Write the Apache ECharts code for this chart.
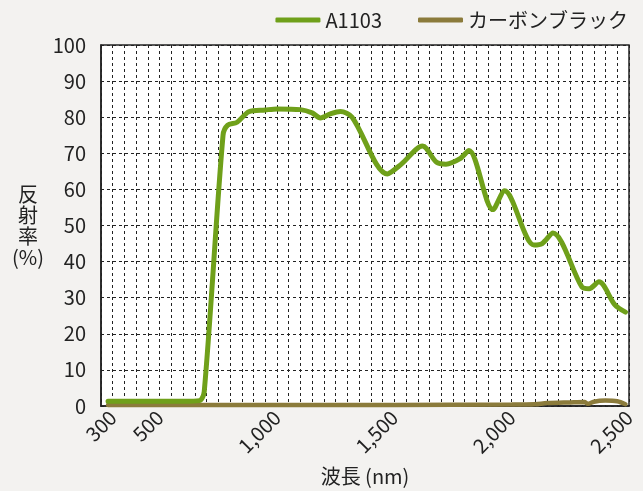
<!DOCTYPE html>
<html>
<head>
<meta charset="utf-8">
<script src="https://cdn.jsdelivr.net/npm/echarts@6/dist/echarts.min.js"></script>
<style>
  html, body { margin: 0; padding: 0; background: #f3f2f0; }
  #chart { width: 643px; height: 491px; }
</style>
</head>
<body>
<div id="chart"></div>
<script>
// 波長 (nm) と反射率 (%)
var seriesNames = ['A1103', 'カーボンブラック']
var tickLabels = [300, 500, 1000, 1500, 2000, 2500]

var a1103Nm = [280, 400, 500, 600, 670, 690, 770, 790, 830, 880, 950, 1000, 1100, 1150, 1185, 1230, 1270, 1320, 1470, 1530, 1620, 1680, 1720, 1780, 1818, 1920, 1970, 2095, 2130, 2176, 2299, 2330, 2372, 2440, 2485]
var a1103Val = [1.3, 1.3, 1.3, 1.3, 1.5, 4, 75, 77.8, 78.6, 81.5, 82, 82.3, 82.1, 81.2, 79.8, 81, 81.6, 80, 64.3, 67, 72, 67.5, 67, 68.5, 70.8, 54.4, 59.6, 44.6, 45, 47.9, 33, 32.5, 34.4, 28, 26]

var carbonNm = [280, 1000, 1500, 2000, 2100, 2150, 2250, 2310, 2325, 2350, 2400, 2450, 2485]
var carbonVal = [0.3, 0.3, 0.3, 0.4, 0.5, 0.8, 1.0, 1.1, 0.6, 1.2, 1.5, 1.3, 0.5]

function pairs(xs, ys) {
  return xs.map(function (x, i) { return [x, ys[i]] })
}

var font = '"Noto Sans CJK JP", "Noto Sans", sans-serif'
var chart = echarts.init(document.getElementById('chart'))

chart.setOption({
  backgroundColor: '#f3f2f0',
  textStyle: { fontFamily: font },
  legend: {
    right: 10,
    top: 5,
    itemWidth: 45,
    itemHeight: 5,
    itemGap: 36,
    icon: 'roundRect',
    textStyle: { fontSize: 20, color: '#222', fontFamily: font },
    data: seriesNames
  },
  grid: {
    left: 101,
    right: 14,
    top: 45,
    bottom: 84.5,
    show: true,
    backgroundColor: '#fff',
    borderColor: '#222',
    borderWidth: 1.5
  },
  xAxis: {
    type: 'value',
    min: 250,
    max: 2500,
    interval: 50,
    name: '波長 (nm)',
    nameLocation: 'middle',
    nameGap: 60,
    nameTextStyle: { fontSize: 20, color: '#222', fontFamily: font },
    axisLine: { show: true, lineStyle: { color: '#222', width: 1.5 } },
    axisTick: { show: false },
    axisLabel: {
      rotate: 45,
      margin: 8,
      fontSize: 20,
      color: '#222',
      showMinLabel: false,
      showMaxLabel: true,
      formatter: function (v) {
        return tickLabels.indexOf(v) >= 0 ? v.toLocaleString('en-US') : ''
      }
    },
    splitLine: { show: true, lineStyle: { color: '#222', type: [3, 3], width: 1 } }
  },
  yAxis: {
    type: 'value',
    min: 0,
    max: 100,
    interval: 10,
    name: '反\n射\n率\n(%)',
    nameLocation: 'middle',
    nameRotate: 0,
    nameGap: 73,
    nameTextStyle: { fontSize: 20, color: '#222', lineHeight: 21, align: 'center', fontFamily: font },
    axisLine: { show: true, lineStyle: { color: '#222', width: 1.5 } },
    axisTick: { show: false },
    axisLabel: { fontSize: 20, color: '#222', margin: 15 },
    splitLine: { show: true, lineStyle: { color: '#222', type: [3, 3], width: 1 } }
  },
  series: [
    {
      name: seriesNames[0],
      type: 'line',
      data: pairs(a1103Nm, a1103Val),
      smooth: 0.3,
      showSymbol: false,
      z: 3,
      lineStyle: { color: '#6fa01a', width: 5, cap: 'round' },
      itemStyle: { color: '#6fa01a' }
    },
    {
      name: seriesNames[1],
      type: 'line',
      data: pairs(carbonNm, carbonVal),
      smooth: 0.3,
      showSymbol: false,
      z: 2,
      lineStyle: { color: '#8b7b3b', width: 4.5, cap: 'round' },
      itemStyle: { color: '#8b7b3b' }
    }
  ]
})
</script>
</body>
</html>
